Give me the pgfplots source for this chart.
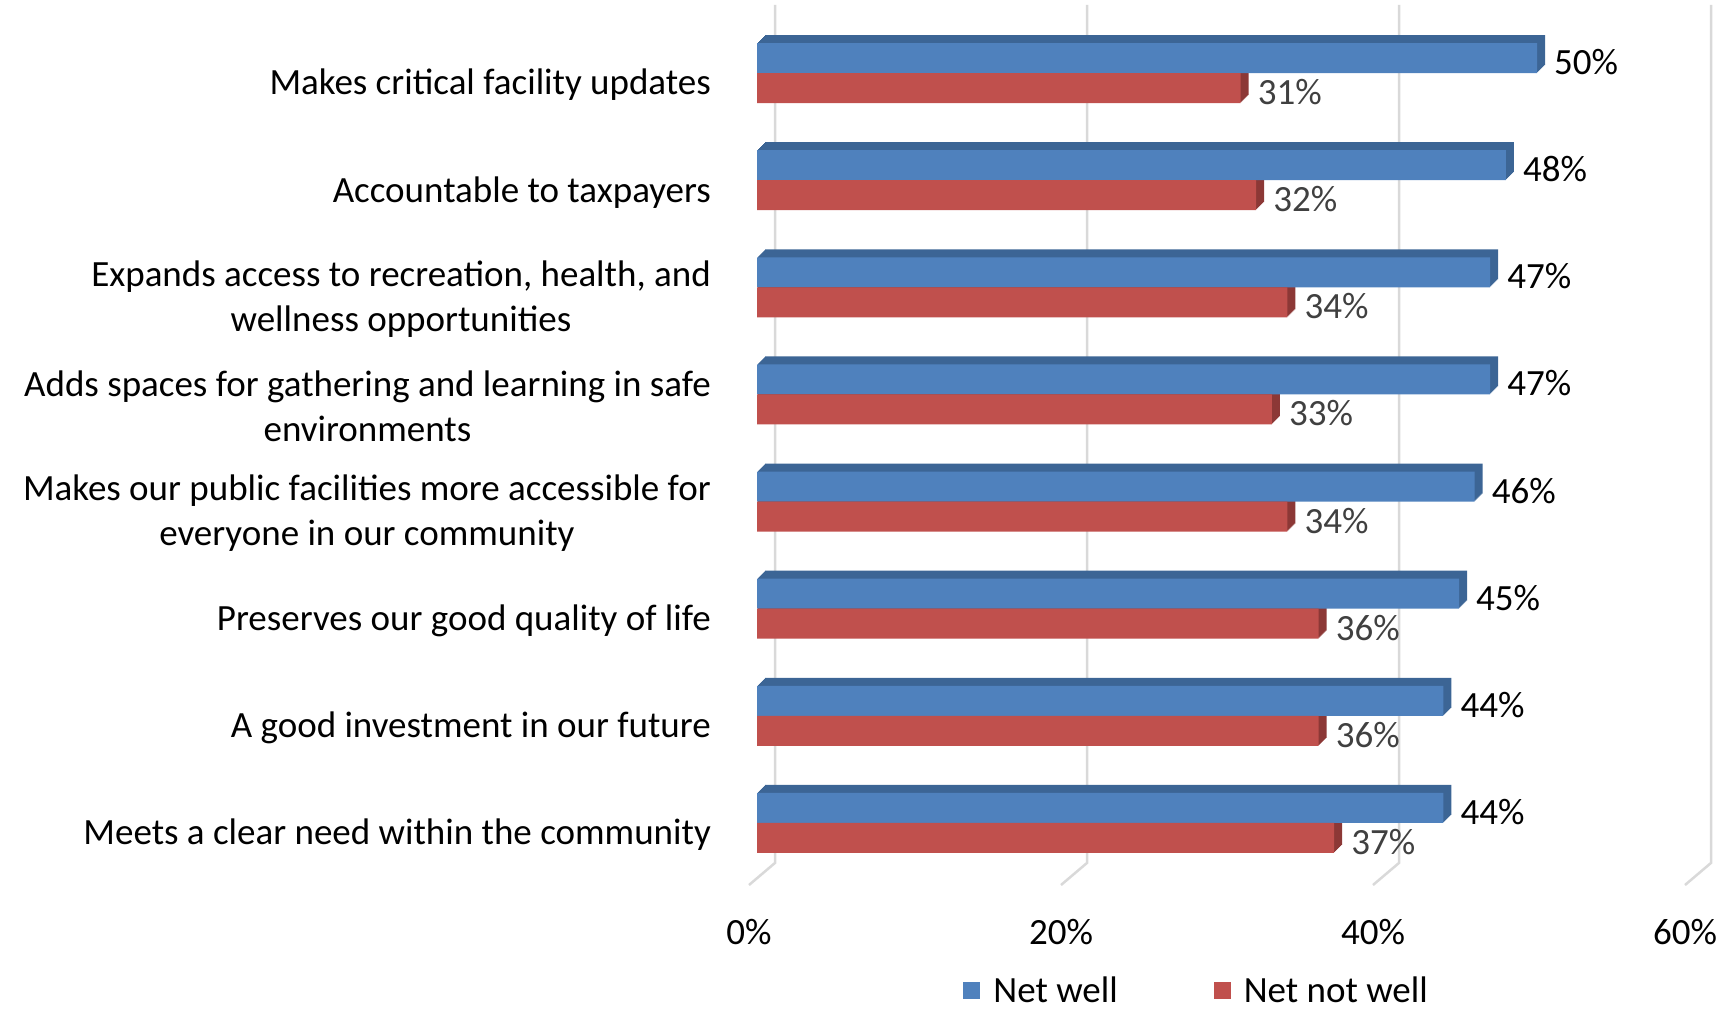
\documentclass[border=0pt]{standalone}
\usepackage{fontspec}
\setmainfont{Carlito}
\usepackage{pgfplots}
\usepackage{pgfplotstable}
\pgfplotsset{compat=1.18}
\definecolor{wellc}{HTML}{4F81BD}
\definecolor{welld}{HTML}{3C6595}
\definecolor{notc}{HTML}{C0504D}
\definecolor{notd}{HTML}{8C3836}
\definecolor{gridc}{HTML}{D9D9D9}
\definecolor{lblgrey}{HTML}{404040}
\newcommand\fs{\fontsize{37}{45}\selectfont}
\pgfplotstableread{
y well notwell
7 50 31
6 48 32
5 47 34
4 47 33
3 46 34
2 45 36
1 44 36
0 44 37
}\data
\begin{document}
\begin{tikzpicture}
\path[use as bounding box] (0,0) rectangle (1721pt,1009pt);
\begin{axis}[
 at={(757pt,132.45pt)}, anchor=south west,
 scale only axis, width=936pt, height=857.1pt,
 xmin=0, xmax=60, ymin=-0.5, ymax=7.5,
 clip=false,
 xbar, bar width=30pt,
 legend image code/.code={\fill[#1] (0pt,-8.5pt) rectangle (17pt,8.5pt); \path (28pt,0pt);},
 axis line style={draw=none},
 major tick length=0pt,
 /pgf/number format/assume math mode=true,
 xtick={0,20,40,60}, xticklabels={0\%,20\%,40\%,60\%},
 xticklabel style={font=\fs, anchor=center, inner sep=0pt, xshift=-8pt, yshift=-55.5pt},
 ytick={0,1,2,3,4,5,6,7},
 yticklabels={
  {Meets a clear need within the community},
  {A good investment in our future},
  {Preserves our good quality of life},
  {Makes our public facilities more accessible for\\everyone in our community},
  {Adds spaces for gathering and learning in safe\\environments},
  {Expands access to recreation, health, and\\wellness opportunities},
  {Accountable to taxpayers},
  {Makes critical facility updates}},
 yticklabel style={font=\fs, align=center, anchor=east, inner sep=0pt, xshift=-46pt, yshift=-12pt},
 legend columns=2,
 legend style={at={(axis description cs:0.2203,-0.1324)}, anchor=west, draw=none, fill=none, inner sep=0pt, font=\fs, /tikz/every even column/.append style={column sep=94pt}},
]
\draw[gridc, line width=2.5pt] (axis cs:1.154,7.635) -- (axis cs:1.154,-0.373) -- (axis cs:-0.513,-0.579);
\draw[gridc, line width=2.5pt] (axis cs:21.154,7.635) -- (axis cs:21.154,-0.373) -- (axis cs:19.487,-0.579);
\draw[gridc, line width=2.5pt] (axis cs:41.154,7.635) -- (axis cs:41.154,-0.373) -- (axis cs:39.487,-0.579);
\draw[gridc, line width=2.5pt] (axis cs:61.154,7.635) -- (axis cs:61.154,-0.373) -- (axis cs:59.487,-0.579);
\pgfplotsinvokeforeach{8,7,6,5,4,3,2,1}{
 \addplot[fill=welld, draw=none, bar shift=15pt, forget plot, xshift=#1pt, yshift=#1pt] table[x=well,y=y]{\data};
 \addplot[fill=notd, draw=none, bar shift=-15pt, forget plot, xshift=#1pt, yshift=#1pt] table[x=notwell,y=y]{\data};
}
\addplot[fill=wellc, draw=none, bar shift=15pt, point meta=x,
  nodes near coords={\pgfmathprintnumber{\pgfplotspointmeta}\%},
  every node near coord/.append style={font=\fs, anchor=west, inner sep=0pt, xshift=17pt, yshift=-4pt, text=black}]
  table[x=well,y=y]{\data};
\addlegendentry{Net well}
\addplot[fill=notc, draw=none, bar shift=-15pt, point meta=x,
  nodes near coords={\pgfmathprintnumber{\pgfplotspointmeta}\%},
  every node near coord/.append style={font=\fs, anchor=west, inner sep=0pt, xshift=17pt, yshift=-4pt, text=lblgrey}]
  table[x=notwell,y=y]{\data};
\addlegendentry{Net not well}
\end{axis}
\end{tikzpicture}
\end{document}
